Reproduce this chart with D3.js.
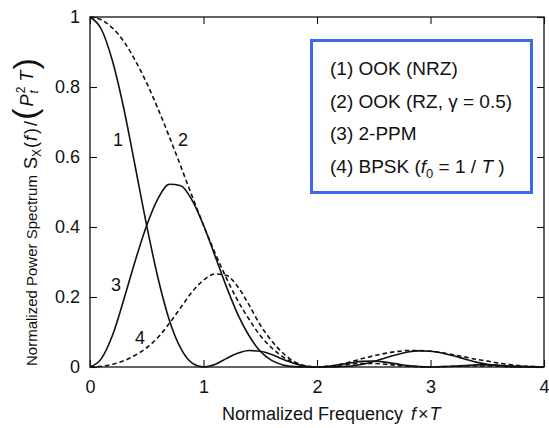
<!DOCTYPE html>
<html>
<head>
<meta charset="utf-8">
<script src="https://cdn.jsdelivr.net/npm/d3@7"></script>
<style>
  body { margin: 0; background: #fff; }
  svg { display: block; font-family: "Liberation Sans", Arial, Helvetica, sans-serif; }
  .tick text { font-size: 18px; fill: #111; }
  .tick line { stroke: #111; stroke-width: 1.1; }
  .domain { display: none; }
</style>
</head>
<body>
<div class="chart"></div>
<script>
var values = {
  width: 549,
  height: 428,
  left: 90,
  right: 544,
  top: 17,
  bottom: 367
};

// normalized frequency f x T, read every 0.1
var freq = [0, 0.1, 0.2, 0.3, 0.4, 0.5, 0.6, 0.7, 0.8, 0.9,
  1.0, 1.1, 1.2, 1.3, 1.4, 1.5, 1.6, 1.7, 1.8, 1.9,
  2.0, 2.1, 2.2, 2.3, 2.4, 2.5, 2.6, 2.7, 2.8, 2.9,
  3.0, 3.1, 3.2, 3.3, 3.4, 3.5, 3.6, 3.7, 3.8, 3.9, 4.0];

// (1) OOK (NRZ)
var ookNrz = [1.000, 0.965, 0.872, 0.735, 0.570, 0.403, 0.253, 0.133, 0.053, 0.011,
  0.000, 0.007, 0.024, 0.039, 0.047, 0.045, 0.036, 0.022, 0.010, 0.002,
  0.000, 0.002, 0.007, 0.012, 0.016, 0.017, 0.014, 0.009, 0.004, 0.001,
  0.000, 0.001, 0.002, 0.004, 0.006, 0.006, 0.005, 0.003, 0.002, 0.001, 0.000];

// (2) OOK (RZ, gamma = 0.5)
var ookRz = [1.000, 0.992, 0.968, 0.929, 0.875, 0.811, 0.737, 0.657, 0.573, 0.488,
  0.405, 0.327, 0.255, 0.191, 0.137, 0.090, 0.055, 0.029, 0.012, 0.003,
  0.000, 0.002, 0.007, 0.015, 0.024, 0.032, 0.039, 0.044, 0.047, 0.047,
  0.045, 0.041, 0.035, 0.029, 0.022, 0.017, 0.011, 0.007, 0.003, 0.001, 0.000];

// (3) 2-PPM
var ppm2 = [0.000, 0.024, 0.092, 0.195, 0.305, 0.405, 0.482, 0.522, 0.518, 0.476,
  0.405, 0.319, 0.231, 0.152, 0.090, 0.045, 0.019, 0.006, 0.001, 0.000,
  0.000, 0.000, 0.001, 0.003, 0.008, 0.016, 0.026, 0.035, 0.043, 0.046,
  0.045, 0.040, 0.032, 0.023, 0.014, 0.008, 0.004, 0.001, 0.000, 0.000, 0.000];

// (4) BPSK (f0 = 1/T)
var bpsk = [0.000, 0.002, 0.008, 0.018, 0.034, 0.055, 0.085, 0.125, 0.170, 0.215,
  0.248, 0.266, 0.262, 0.230, 0.178, 0.120, 0.075, 0.040, 0.015, 0.003,
  0.000, 0.002, 0.005, 0.008, 0.010, 0.010, 0.008, 0.005, 0.002, 0.001,
  0.000, 0.001, 0.002, 0.003, 0.003, 0.003, 0.002, 0.001, 0.001, 0.000, 0.000];

var xTicks = [0, 1, 2, 3, 4];
var yTicks = [0, 0.2, 0.4, 0.6, 0.8, 1];

// curve numbers, placed in data units
var curveTags = ["1", "2", "3", "4"];
var curveTagF = [0.247, 0.819, 0.229, 0.44];
var curveTagV = [0.651, 0.649, 0.237, 0.083];

// legend rows, as text pieces (it = italic, sub = subscript)
var legendRows = [
  [{ t: "(1) OOK (NRZ)" }],
  [{ t: "(2) OOK (RZ, \u03b3 = 0.5)" }],
  [{ t: "(3) 2-PPM" }],
  [{ t: "(4) BPSK (" }, { t: "f", it: true }, { t: "0", sub: true }, { t: " = 1 / " }, { t: "T", it: true }, { t: " )" }]
];

var series = [
  { vals: ookNrz, dashed: false },
  { vals: ookRz, dashed: true },
  { vals: ppm2, dashed: false },
  { vals: bpsk, dashed: true }
];

var x = d3.scaleLinear().domain([0, 4]).range([values.left, values.right]);
var y = d3.scaleLinear().domain([0, 1]).range([values.bottom, values.top]);

var svg = d3.select('.chart')
  .append('svg')
  .attr('width', values.width)
  .attr('height', values.height);

// ticks on all four sides, pointing in
svg.append('g')
  .attr('class', 'x_axis')
  .attr('transform', 'translate(0,' + values.bottom + ')')
  .call(d3.axisBottom(x).tickValues(xTicks).tickSizeInner(-7).tickSizeOuter(0).tickPadding(13).tickFormat(d3.format('d')));

svg.append('g')
  .attr('transform', 'translate(0,' + values.top + ')')
  .call(d3.axisTop(x).tickValues(xTicks).tickSizeInner(-7).tickSizeOuter(0).tickFormat(''));

svg.append('g')
  .attr('class', 'y_axis')
  .attr('transform', 'translate(' + values.left + ',0)')
  .call(d3.axisLeft(y).tickValues(yTicks).tickSizeInner(-7).tickSizeOuter(0).tickPadding(10).tickFormat(d => d === 0 || d === 1 ? d3.format('d')(d) : d3.format('.1f')(d)));

svg.append('g')
  .attr('transform', 'translate(' + values.right + ',0)')
  .call(d3.axisRight(y).tickValues(yTicks).tickSizeInner(-7).tickSizeOuter(0).tickFormat(''));

// frame
svg.append('rect')
  .attr('x', values.left)
  .attr('y', values.top)
  .attr('width', values.right - values.left)
  .attr('height', values.bottom - values.top)
  .attr('fill', 'none')
  .attr('stroke', '#111')
  .attr('stroke-width', 1.3);

var line = d3.line()
  .x((d, i) => x(freq[i]))
  .y(d => y(d))
  .curve(d3.curveMonotoneX);

svg.selectAll('path.curve')
  .data(series)
  .enter()
  .append('path')
  .attr('class', 'curve')
  .attr('d', d => line(d.vals))
  .attr('fill', 'none')
  .attr('stroke', '#111')
  .attr('stroke-width', 1.6)
  .attr('stroke-dasharray', d => d.dashed ? '4.5,3' : null);

svg.selectAll('text.tag')
  .data(curveTags)
  .enter()
  .append('text')
  .attr('class', 'tag')
  .attr('x', (d, i) => x(curveTagF[i]))
  .attr('y', (d, i) => y(curveTagV[i]))
  .attr('dy', '0.36em')
  .attr('text-anchor', 'middle')
  .style('font-size', '18px')
  .style('fill', '#111')
  .text(d => d);

// legend box
var legend = svg.append('g').attr('class', 'legend');
legend.append('rect')
  .attr('x', 311.5)
  .attr('y', 40.5)
  .attr('width', 220)
  .attr('height', 152)
  .attr('fill', '#fff')
  .attr('stroke', '#3a69f0')
  .attr('stroke-width', 3);

legend.selectAll('text')
  .data(legendRows)
  .enter()
  .append('text')
  .attr('x', 330)
  .attr('y', (d, i) => 75 + i * 32.5)
  .style('font-size', '19px')
  .style('fill', '#111')
  .each(function (row) {
    var t = d3.select(this);
    var shifted = false;
    row.forEach(p => {
      var s = t.append('tspan').text(p.t);
      if (p.it) s.style('font-style', 'italic');
      if (p.sub) {
        s.style('font-size', '13px').attr('dy', 5);
        shifted = true;
      } else if (shifted) {
        s.attr('dy', -5);
        shifted = false;
      }
    });
  });

// x axis title
var xt = svg.append('text')
  .attr('x', 222)
  .attr('y', 420)
  .style('font-size', '18px')
  .style('fill', '#111');
xt.append('tspan').text('Normalized Frequency  ');
xt.append('tspan').style('font-style', 'italic').attr('dx', 3).text('f');
xt.append('tspan').attr('dx', 2).text('\u00d7');
xt.append('tspan').style('font-style', 'italic').attr('dx', 1).text('T');

// y axis title
var yt = svg.append('text')
  .attr('transform', 'translate(37,366) rotate(-90)')
  .style('font-size', '15px')
  .style('fill', '#111');
yt.append('tspan').text('Normalized Power Spectrum ');
yt.append('tspan').style('font-size', '18px').attr('dx', 2).text('S');
yt.append('tspan').style('font-size', '12px').attr('dy', 4).text('X');
yt.append('tspan').style('font-size', '18px').attr('dy', -4).attr('dx', 1).text('(');
yt.append('tspan').style('font-size', '18px').style('font-style', 'italic').attr('dx', 1).text('f');
yt.append('tspan').style('font-size', '18px').attr('dx', 2).text(')');
yt.append('tspan').style('font-size', '18px').attr('dx', 2).text('/');
yt.append('tspan').style('font-size', '34px').attr('dy', -1).attr('dx', 1).text('(');
yt.append('tspan').style('font-size', '18px').style('font-style', 'italic').attr('dy', -3).attr('dx', 2).text('P');
yt.append('tspan').style('font-size', '12px').style('font-style', 'italic').attr('dy', 5).attr('dx', 1).text('t');
yt.append('tspan').style('font-size', '12px').attr('dy', -13).attr('dx', -3).text('2');
yt.append('tspan').style('font-size', '18px').style('font-style', 'italic').attr('dy', 8).attr('dx', 5).text('T');
yt.append('tspan').style('font-size', '34px').attr('dy', 4).attr('dx', 1).text(')');
</script>
</body>
</html>
